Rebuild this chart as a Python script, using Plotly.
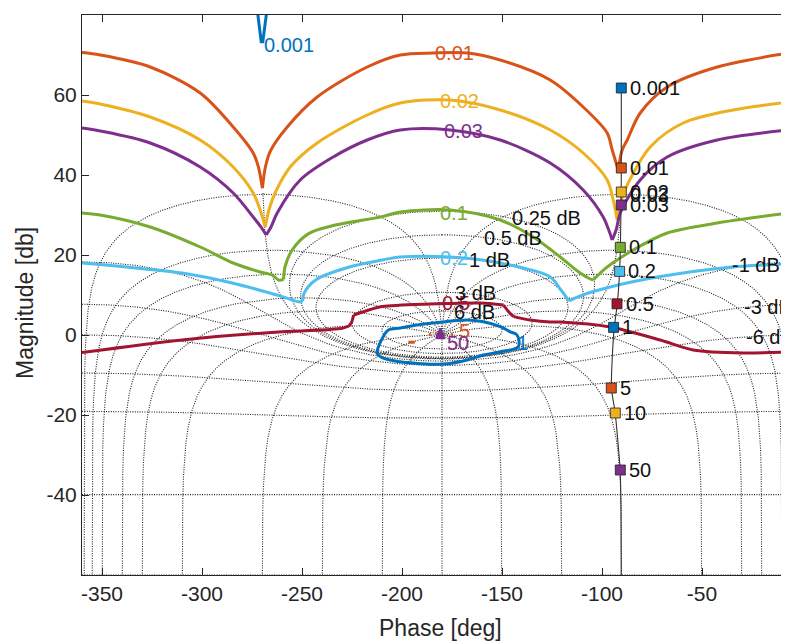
import numpy as np
import plotly.graph_objects as go

# ---------------- data ----------------
# Nichols-grid contour values (closed-loop gain in dB, closed-loop phase in deg)
grid_gain_db = [6, 3, 1, 0.5, 0.25, 0, -1, -3, -6, -12, -20, -40, -60]
grid_phase_deg = [-1, -5, -10, -20, -30, -50, -90, -120, -150, -180,
                  -210, -240, -270, -310, -330, -340, -350, -355, -359]
grid_label_text = ["0.25 dB", "0.5 dB", "1 dB", "3 dB", "6 dB", "-1 dB", "-3 dB", "-6 dB"]
grid_label_phase = [-145.9, -160.0, -167.5, -174.3, -175.0, -35.9, -30.0, -29.2]
grid_label_mag = [29.25, 24.25, 18.75, 10.5, 5.8, 17.5, 7.1, -0.4]

# bounds (phase in deg, magnitude in dB); None separates pieces at the cusps
b0001_phase = [-272.3, -270.4, -269.6, -267.6]
b0001_mag = [81, 73.3, 73.3, 81]

b001_phase = [-360, -350.9, -325.9, -300.9, -284.4, -274.4, -271.8, -269.8, None,
              -269.8, -268.3, -265.8, -257.4, -242.4, -217.4, -200.9, -184.4, -167.4, -150.9,
              -125.9, -109.4, -97.4, -94.9, -91.9, None,
              -91.9, -89.9, -87.4, -80.9, -67.4, -42.4, -6.4]
b001_mag = [70.6, 70.0, 67.0, 60.5, 52.0, 45.5, 42.0, 36.7, None,
            36.7, 42.0, 46.0, 52.0, 59.5, 67.0, 70.0, 70.5, 70.5, 68.75,
            63.75, 57.0, 50.5, 46.25, 41.25, None,
            41.25, 46.25, 48.75, 55.5, 62.0, 67.0, 70.5]

b002_phase = [-360, -350.9, -325.9, -300.9, -284.4, -274.4, -270.9, -268.4, None,
              -268.4, -266.4, -263.0, -255.9, -242.4, -217.4, -200.9, -175.9, -150.9, -125.9,
              -109.4, -97.4, -94.4, -92.4, None,
              -92.4, -90.4, -87.4, -75.9, -59.4, -34.4, -6.4]
b002_mag = [58.5, 57.75, 54.5, 48.75, 42.0, 35.5, 31.25, 27.0, None,
            27.0, 31.5, 36.0, 42.0, 48.0, 55.0, 58.0, 58.75, 56.25, 51.25,
            45.5, 38.75, 33.75, 28.75, None,
            28.75, 33.75, 37.5, 47.0, 53.0, 56.25, 58.25]

b003_phase = [-360, -350.9, -325.9, -300.9, -284.4, -274.4, -270.5, -267.9, None,
              -267.9, -265.5, -262.4, -250.9, -234.4, -217.4, -200.9, -175.9, -150.9, -125.9,
              -109.4, -99.4, -96.8, -94.9, None,
              -94.9, -92.8, -90.9, -80.9, -67.4, -42.4, -6.4]
b003_mag = [51.75, 51.0, 48.0, 42.0, 35.5, 29.5, 27.0, 25.0, None,
            25.0, 27.0, 30.5, 38.75, 44.5, 48.75, 51.25, 51.25, 48.75, 43.0,
            36.25, 29.5, 26.5, 23.75, None,
            23.75, 26.5, 30.5, 38.75, 44.5, 48.75, 51.25]

b01_phase = [-360, -350.9, -325.9, -300.9, -284.4, -270.9, -264.9, -261.5, -259.2, None,
             -259.2, -258.5, -254.9, -246.5, -234.9, -209.9, -200.9, -175.9, -150.9, -134.4,
             -120.9, -110.9, -105.9, -104.4, None,
             -104.4, -102.4, -97.4, -84.4, -67.4, -42.4, -6.4]
b01_mag = [30.5, 30.0, 27.0, 22.0, 18.0, 15.75, 15.0, 13.7, 13.9, None,
           13.9, 17.0, 21.25, 25.4, 27.3, 29.6, 30.75, 31.25, 28.75, 24.5,
           19.5, 15.5, 14.0, 13.75, None,
           13.75, 14.75, 17.0, 21.25, 25.5, 28.0, 30.5]

b02_phase = [-360, -350.9, -326.0, -310.0, -284.9, -259.9, -251.5, -249.7, None,
             -249.7, -249.0, -243.2, -226.4, -209.9, -200.9, -175.9, -150.9, -125.9, -120.9,
             -116.5, None,
             -116.5, -110.9, -95.9, -70.9, -37.6, -6.4]
b02_mag = [18.0, 17.6, 16.4, 15.5, 13.0, 9.6, 8.3, 8.5, None,
           8.5, 10.4, 13.75, 17.0, 18.75, 19.5, 19.5, 18.0, 14.5, 11.5,
           8.5, None,
           8.5, 9.8, 12.0, 14.6, 16.9, 17.75]

b05_phase = [-360, -309.9, -259.9, -235.9, -229.9, -226.6, None,
             -226.6, -225.2, -224.2, None,
             -224.2, -218.2, -209.9, -185.9, -160.9, -149.2, None,
             -149.2, -147.0, -144.2, None,
             -144.2, -135.9, -125.9, -120.9, -95.9, -70.9, -54.4, -29.4, -6.4]
b05_mag = [-4.4, -1.25, 0.8, 1.4, 1.7, 2.2, None,
           2.2, 3.2, 5.0, None,
           5.0, 6.0, 7.1, 7.75, 8.0, 7.5, None,
           7.5, 6.0, 4.6, None,
           4.6, 3.75, 3.25, 3.25, 2.0, -1.25, -3.75, -4.5, -4.25]

b1_phase = [-212.5, -209.35, -206.85, -200.85, -192.5, -184.35, -167.5, -159.35, -150.85, -145.85,
            -142.5, -141.85, -150.85, -159.35, -167.5, -175.85, -184.35, -192.5, -200.85, -209.35,
            -212.5, -212.5]
b1_mag = [-4.2, -0.4, 1.25, 1.75, 2.5, 3.0, 3.75, 3.3, 2.1, 0.8,
          0.0, -2.9, -4.2, -5.0, -6.25, -7.1, -7.3, -7.1, -6.7, -5.8,
          -4.6, -4.2]

b5_phase = [-196.8, -193.6, None, -186.6, -185.6, None, -183.4, -182.6, None, -175.4, -174.4]
b5_mag = [-1.8, -1.8, None, 0.1, 0.1, None, 0.3, 0.3, None, 0.1, 0.1]

b50_phase = [-182.9, -180.85, -178.9, -182.9]
b50_mag = [-0.8, 1.6, -0.8, -0.8]

bound_labels = ["0.001", "0.01", "0.02", "0.03", "0.1", "0.2", "0.5", "1", "5", "50"]
bound_label_phase = [-269.9, -184.4, -181.9, -179.9, -181.9, -181.9, -180.9, -143.4, -172.4, -178.4]
bound_label_mag = [72.6, 70.5, 58.5, 51.0, 30.5, 19.25, 8.0, -2.0, 1.0, -2.0]

# open-loop Nichols plot with frequency markers
nic_phase = [-90.35, -90.35, -90.4, -90.5, -90.8, -91.2, -92.3, -93.9, -94.8, -95.3,
             -93.4, -92.0, -90.9, -90.5, -90.4]
nic_mag = [61.75, 41.75, 35.75, 32.5, 22.0, 16.0, 8.0, 1.8, -5.0, -13.25,
           -19.5, -27.0, -33.75, -45.0, -60.0]
freq_labels = ["0.001", "0.01", "0.02", "0.03", "0.1", "0.2", "0.5", "1", "5", "10", "50"]
freq_phase = [-90.35, -90.35, -90.35, -90.35, -90.85, -91.2, -92.5, -94.2, -95.35, -93.35, -90.85]
freq_mag = [61.75, 41.75, 35.75, 32.5, 21.9, 15.9, 7.8, 1.9, -13.25, -19.5, -33.75]

# ---------------- styles ----------------
C = {"blue": "#0072BD", "orange": "#D95319", "yellow": "#EDB120", "purple": "#7E2F8E",
     "green": "#77AC30", "lblue": "#4DBEEE", "red": "#A2142F"}
freq_colors = [C["blue"], C["orange"], C["yellow"], C["purple"], C["green"], C["lblue"],
               C["red"], C["blue"], C["orange"], C["yellow"], C["purple"]]
label_colors = [C["blue"], C["orange"], C["yellow"], C["purple"], C["green"], C["lblue"],
                C["red"], C["blue"], C["orange"], C["purple"]]
FONT = "Liberation Sans, Arial, Helvetica, sans-serif"
INK = "#262626"
PAGE_PAD = 8  # default body margin of the html page

fig = go.Figure()

# ---------------- Nichols grid ----------------
grid_style = dict(color="rgba(20,20,20,0.95)", width=1.1, dash="1px,1.4px")
gx, gy = [], []
for g in grid_gain_db:
    m = 10 ** (g / 20.0)
    if abs(m - 1) < 1e-12:
        th = np.linspace(-2 * np.pi + 1e-4, -1e-4, 3000)
    else:
        th = np.linspace(-2 * np.pi, 0, 3000)
    T = m * np.exp(1j * th)
    L = T / (1 - T)
    ph = np.degrees(np.unwrap(np.angle(L)))
    ph -= 360 * np.round((ph.mean() + 180) / 360)
    if m < 1:
        ph = np.degrees(th) - np.degrees(np.angle(1 - T))
    mag = 20 * np.log10(np.abs(L))
    ph = np.where(mag > 35.5, np.nan, ph)
    mag = np.where(mag > 35.5, np.nan, mag)
    gx += [None if np.isnan(v) else float(v) for v in ph] + [None]
    gy += [None if np.isnan(v) else float(v) for v in mag] + [None]
for p in grid_phase_deg:
    th = np.radians(p)
    mm = np.unique(np.concatenate([np.logspace(-4, 4, 3000), np.linspace(0.8, 1.25, 3000)]))
    T = mm * np.exp(1j * th)
    L = T / (1 - T)
    ph = p - np.degrees(np.angle(1 - T))
    mag = 20 * np.log10(np.abs(L))
    gx += list(ph) + [None]
    gy += list(mag) + [None]
fig.add_trace(go.Scatter(x=gx, y=gy, mode="lines", line=grid_style, connectgaps=False,
                         hoverinfo="skip", showlegend=False))

# ---------------- bounds ----------------
bounds = [
    (b0001_phase, b0001_mag, C["blue"], 0.0),
    (b001_phase, b001_mag, C["orange"], 0.9),
    (b002_phase, b002_mag, C["yellow"], 0.9),
    (b003_phase, b003_mag, C["purple"], 0.9),
    (b01_phase, b01_mag, C["green"], 0.9),
    (b02_phase, b02_mag, C["lblue"], 0.9),
    (b05_phase, b05_mag, C["red"], 0.8),
    (b1_phase, b1_mag, C["blue"], 1.0),
    (b5_phase, b5_mag, C["orange"], 0.0),
]
for xs, ys, col, sm in bounds:
    line = dict(color=col, width=3)
    if sm > 0:
        line.update(shape="spline", smoothing=sm)
    fig.add_trace(go.Scatter(x=xs, y=ys, mode="lines", line=line, connectgaps=False,
                             showlegend=False, hoverinfo="skip"))
fig.add_trace(go.Scatter(x=b50_phase, y=b50_mag, mode="lines", fill="toself",
                         fillcolor=C["purple"], line=dict(color=C["purple"], width=2),
                         showlegend=False, hoverinfo="skip"))

# ---------------- open-loop line and markers ----------------
fig.add_trace(go.Scatter(x=nic_phase, y=nic_mag, mode="lines",
                         line=dict(color="#333333", width=1.1, shape="spline", smoothing=0.6),
                         showlegend=False, hoverinfo="skip"))
fig.add_trace(go.Scatter(x=freq_phase, y=freq_mag, mode="markers",
                         marker=dict(symbol="square", size=10, color=freq_colors,
                                     line=dict(color="rgba(30,30,30,0.8)", width=1)),
                         showlegend=False, hoverinfo="skip"))

ann = []
for t, x, y in zip(freq_labels, freq_phase, freq_mag):
    ann.append(dict(x=x + 3.3, y=y, text=t, showarrow=False, xanchor="left", yanchor="middle",
                    font=dict(family=FONT, size=20, color="#111111")))
ann.append(dict(x=-90.35 + 3.3, y=35.0, text="0.03", showarrow=False, xanchor="left",
                yanchor="middle", font=dict(family=FONT, size=20, color="#111111")))
for t, x, y, col in zip(bound_labels, bound_label_phase, bound_label_mag, label_colors):
    ann.append(dict(x=x, y=y, text=t, showarrow=False, xanchor="left", yanchor="middle",
                    font=dict(family=FONT, size=20, color=col)))
for t, x, y in zip(grid_label_text, grid_label_phase, grid_label_mag):
    ann.append(dict(x=x, y=y, text=t, showarrow=False, xanchor="left", yanchor="middle",
                    font=dict(family=FONT, size=20, color="#111111")))

# plot area in page pixels: left 82, top 15, bottom 575, right edge 789
W, H = 789 - PAGE_PAD, 644 - PAGE_PAD
ml, mt = 82 - PAGE_PAD, 15 - PAGE_PAD
mb = H - (575 - PAGE_PAD)
plot_w, plot_h = W - ml, H - mt - mb

# axis titles
ann.append(dict(x=-180.9, y=-(628 - 575) / plot_h, xref="x", yref="paper", text="Phase [deg]",
                showarrow=False, xanchor="center", yanchor="middle",
                font=dict(family=FONT, size=23, color=INK)))
ann.append(dict(x=(25 - 82) / plot_w, y=8.0, xref="paper", yref="y", text="Magnitude [db]",
                showarrow=False, xanchor="center", yanchor="middle", textangle=-90,
                font=dict(family=FONT, size=23, color=INK)))

xt = [-350, -300, -250, -200, -150, -100, -50]
yt = [-40, -20, 0, 20, 40, 60, 80]
fig.update_layout(
    width=W, height=H,
    margin=dict(l=ml, r=0, t=mt, b=mb, autoexpand=False),
    paper_bgcolor="white", plot_bgcolor="white",
    font=dict(family=FONT, color=INK),
    annotations=ann,
    xaxis=dict(range=[-360, -360 + plot_w / 2.0], tickvals=xt, ticktext=[str(v) for v in xt],
               showgrid=False, zeroline=False, showline=True, linecolor=INK, linewidth=1,
               mirror="ticks", ticks="inside", ticklen=7, tickcolor=INK,
               tickfont=dict(family=FONT, size=21, color=INK)),
    yaxis=dict(range=[-60, 80], tickvals=yt, ticktext=[str(v) for v in yt],
               showgrid=False, zeroline=False, showline=True, linecolor=INK, linewidth=1,
               mirror=False, ticks="inside", ticklen=7, tickcolor=INK,
               tickfont=dict(family=FONT, size=21, color=INK)),
)

fig.write_html("out.html")
